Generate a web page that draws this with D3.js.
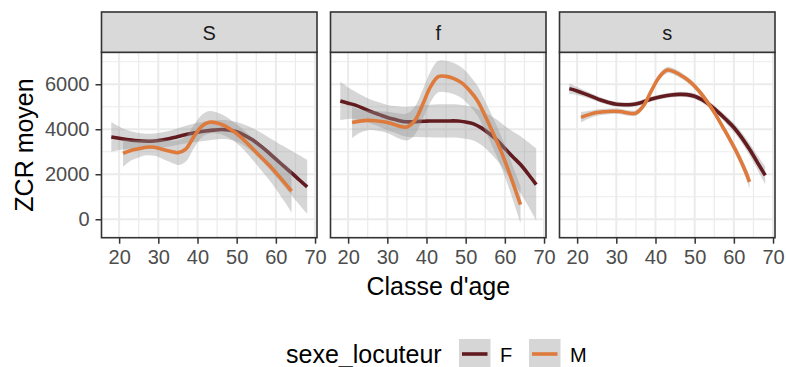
<!DOCTYPE html>
<html>
<head>
<meta charset="utf-8">
<script src="https://cdn.jsdelivr.net/npm/d3@7"></script>
<style>
  body { margin: 0; background: #fff; }
  text { font-family: "Liberation Sans", Arial, Helvetica, sans-serif; }
</style>
</head>
<body>
<svg id="chart"></svg>
<script>
// facets and groups
var panels = ["S", "f", "s"];
var sexes = ["F", "M"];
var sexColors = ["#621B1F", "#DE7A3B"];

// ages of the smoothed curves
var agesF = [18, 20, 22, 24, 26, 28, 30, 32, 34, 36, 38, 40, 42, 44, 46, 48, 50, 52, 54, 56, 58, 60, 62, 64, 66, 68];
var agesM = [21, 23, 25, 27, 29, 31, 33, 35, 37, 39, 41, 43, 45, 47, 49, 51, 53, 55, 57, 59, 61, 63, 64];

// smoothed ZCR (F) and half width of the confidence band, per panel
var fitF_S = [3660, 3600, 3545, 3500, 3475, 3470, 3500, 3555, 3630, 3720, 3800, 3865, 3920, 3960, 3990, 3970, 3890, 3730, 3530, 3270, 2980, 2670, 2360, 2060, 1745, 1440];
var bandF_S = [660, 520, 420, 370, 340, 330, 330, 340, 360, 380, 400, 420, 430, 430, 420, 420, 430, 470, 530, 600, 680, 780, 880, 990, 1100, 1200];
var fitF_f = [5260, 5160, 5060, 4920, 4775, 4650, 4520, 4430, 4345, 4330, 4350, 4360, 4368, 4370, 4370, 4365, 4320, 4240, 4060, 3810, 3520, 3140, 2780, 2430, 2000, 1540];
var bandF_f = [850, 700, 600, 550, 530, 540, 560, 600, 640, 680, 700, 720, 730, 740, 740, 740, 740, 740, 760, 820, 900, 1000, 1120, 1260, 1420, 1600];
var fitF_s = [5806, 5700, 5575, 5440, 5300, 5190, 5110, 5090, 5100, 5170, 5290, 5390, 5470, 5525, 5550, 5540, 5470, 5300, 5060, 4760, 4430, 4080, 3630, 3110, 2530, 1950];
var bandF_s = [230, 180, 150, 130, 120, 115, 110, 110, 110, 110, 110, 110, 110, 110, 110, 115, 120, 130, 140, 150, 170, 200, 230, 270, 320, 400];

// smoothed ZCR (M) and band half width, per panel
var fitM_S = [2930, 3060, 3130, 3200, 3200, 3110, 3020, 2960, 3120, 3650, 4120, 4310, 4280, 4150, 3930, 3660, 3320, 2970, 2620, 2270, 1870, 1460, 1250];
var bandM_S = [600, 450, 380, 360, 380, 420, 480, 550, 560, 520, 500, 500, 470, 440, 420, 430, 460, 520, 600, 680, 780, 880, 950];
var fitM_f = [4300, 4360, 4395, 4380, 4335, 4260, 4145, 4100, 4380, 5090, 5880, 6340, 6350, 6250, 6060, 5720, 5270, 4580, 3830, 3040, 2130, 1140, 650];
var bandM_f = [700, 520, 440, 430, 450, 500, 560, 600, 620, 650, 680, 700, 700, 690, 680, 670, 660, 660, 670, 690, 720, 780, 820];
var fitM_s = [4530, 4650, 4740, 4780, 4800, 4790, 4720, 4720, 5060, 5730, 6330, 6630, 6540, 6340, 6080, 5720, 5270, 4750, 4150, 3540, 2880, 2110, 1660];
var bandM_s = [230, 170, 140, 130, 125, 125, 125, 125, 130, 140, 140, 140, 135, 130, 130, 130, 135, 140, 150, 170, 200, 250, 290];

var fits = { S: [fitF_S, fitM_S], f: [fitF_f, fitM_f], s: [fitF_s, fitM_s] };
var bands = { S: [bandF_S, bandM_S], f: [bandF_f, bandM_f], s: [bandF_s, bandM_s] };
var agesBySex = [agesF, agesM];

// ticks
var xTicks = [20, 30, 40, 50, 60, 70];
var xMinor = [25, 35, 45, 55, 65];
var yTicks = [0, 2000, 4000, 6000];
var yMinor = [1000, 3000, 5000, 7000];

var W = 786, H = 367;
var panel = { left: 101.5, top: 52.3, width: 215.5, height: 185.4, gap: 13.5, stripTop: 12 };

var svg = d3.select("#chart").attr("width", W).attr("height", H);

var yScale = d3.scaleLinear().domain([-820, 7420]).range([panel.top + panel.height, panel.top]);

var drawPanel = function(name, i)
{
    var x0 = panel.left + i * (panel.width + panel.gap);
    var xScale = d3.scaleLinear().domain([15.5, 70.5]).range([x0, x0 + panel.width]);
    var g = svg.append("g").attr("class", "panel");

    // grid
    g.selectAll(".vminor").data(xMinor).enter().append("line")
        .attr("x1", function(d) { return xScale(d); }).attr("x2", function(d) { return xScale(d); })
        .attr("y1", panel.top).attr("y2", panel.top + panel.height)
        .attr("stroke", "#EBEBEB").attr("stroke-width", 1.2);
    g.selectAll(".hminor").data(yMinor).enter().append("line")
        .attr("x1", x0).attr("x2", x0 + panel.width)
        .attr("y1", function(d) { return yScale(d); }).attr("y2", function(d) { return yScale(d); })
        .attr("stroke", "#EBEBEB").attr("stroke-width", 1.2);
    g.selectAll(".vmajor").data(xTicks).enter().append("line")
        .attr("x1", function(d) { return xScale(d); }).attr("x2", function(d) { return xScale(d); })
        .attr("y1", panel.top).attr("y2", panel.top + panel.height)
        .attr("stroke", "#EBEBEB").attr("stroke-width", 2);
    g.selectAll(".hmajor").data(yTicks).enter().append("line")
        .attr("x1", x0).attr("x2", x0 + panel.width)
        .attr("y1", function(d) { return yScale(d); }).attr("y2", function(d) { return yScale(d); })
        .attr("stroke", "#EBEBEB").attr("stroke-width", 2);

    // smooths: ribbon then line, F first then M
    sexes.forEach(function(sex, k)
    {
        var ages = agesBySex[k];
        var fit = fits[name][k];
        var band = bands[name][k];
        var pts = ages.map(function(a, j) { return { age: a, y: fit[j], h: band[j] }; });

        var area = d3.area()
            .x(function(d) { return xScale(d.age); })
            .y0(function(d) { return yScale(d.y - d.h); })
            .y1(function(d) { return yScale(d.y + d.h); })
            .curve(d3.curveCatmullRom.alpha(0.5));
        var line = d3.line()
            .x(function(d) { return xScale(d.age); })
            .y(function(d) { return yScale(d.y); })
            .curve(d3.curveCatmullRom.alpha(0.5));

        g.append("path").datum(pts).attr("d", area)
            .attr("fill", "#999999").attr("fill-opacity", 0.4);
        g.append("path").datum(pts).attr("d", line)
            .attr("fill", "none").attr("stroke", sexColors[k]).attr("stroke-width", 3.6);
    });

    // border
    g.append("rect").attr("x", x0).attr("y", panel.top).attr("width", panel.width).attr("height", panel.height)
        .attr("fill", "none").attr("stroke", "#333333").attr("stroke-width", 1.6);

    // strip
    g.append("rect").attr("x", x0).attr("y", panel.stripTop).attr("width", panel.width).attr("height", panel.top - panel.stripTop)
        .attr("fill", "#D9D9D9").attr("stroke", "#333333").attr("stroke-width", 1.6);
    g.append("text").text(name)
        .attr("x", x0 + panel.width / 2).attr("y", 39.5)
        .attr("text-anchor", "middle").attr("font-size", "20px").attr("fill", "#1A1A1A");

    // x axis
    var xAxis = d3.axisBottom(xScale).tickValues(xTicks).tickSize(6).tickPadding(6).tickFormat(d3.format("d"));
    var ax = svg.append("g").attr("transform", "translate(0," + (panel.top + panel.height) + ")").call(xAxis);
    ax.select(".domain").remove();
    ax.selectAll("line").attr("stroke", "#333333").attr("stroke-width", 1.5);
    ax.selectAll("text").attr("font-size", "20px").attr("fill", "#4D4D4D").attr("font-family", null);

    if (i == 0)
    {
        var yAxis = d3.axisLeft(yScale).tickValues(yTicks).tickSize(6).tickPadding(6).tickFormat(d3.format("d"));
        var ay = svg.append("g").attr("transform", "translate(" + x0 + ",0)").call(yAxis);
        ay.select(".domain").remove();
        ay.selectAll("line").attr("stroke", "#333333").attr("stroke-width", 1.5);
        ay.selectAll("text").attr("font-size", "20px").attr("fill", "#4D4D4D").attr("font-family", null);
    }
}

panels.forEach(drawPanel);

// axis titles
var plotRight = panel.left + 3 * panel.width + 2 * panel.gap;
svg.append("text").text("Classe d'age")
    .attr("x", (panel.left + plotRight) / 2).attr("y", 295)
    .attr("text-anchor", "middle").attr("font-size", "25px").attr("fill", "#000");
svg.append("text").text("ZCR moyen")
    .attr("transform", "translate(33," + (panel.top + panel.height / 2) + ") rotate(-90)")
    .attr("text-anchor", "middle").attr("font-size", "25px").attr("fill", "#000");

// legend
var legend = svg.append("g").attr("id", "legend");
legend.append("text").text("sexe_locuteur")
    .attr("x", 286).attr("y", 363).attr("font-size", "25px").attr("fill", "#000");
var keyX = d3.scalePoint().domain(sexes).range([459, 529]);
sexes.forEach(function(sex, k)
{
    var kx = keyX(sex);
    legend.append("rect").attr("x", kx).attr("y", 339).attr("width", 31.5).attr("height", 28)
        .attr("fill", "#999999").attr("fill-opacity", 0.4);
    legend.append("line").attr("x1", kx + 3).attr("x2", kx + 28.5).attr("y1", 354).attr("y2", 354)
        .attr("stroke", sexColors[k]).attr("stroke-width", 3.6);
    legend.append("text").text(sex)
        .attr("x", kx + 41).attr("y", 361.5).attr("font-size", "20px").attr("fill", "#000");
});
</script>
</body>
</html>
